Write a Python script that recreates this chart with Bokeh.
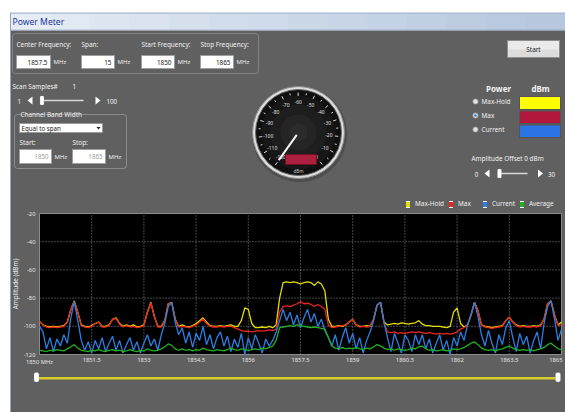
import math
from bokeh.plotting import figure
from bokeh.models import (Range1d, Legend, LegendItem, BoxAnnotation, ColumnDataSource)
from bokeh.core.properties import value
from bokeh.embed import file_html
from bokeh.resources import INLINE

FONT = "Noto Sans"
PANEL = "#606060"
NAN = float("nan")

# ---------------- data ----------------
freq_mhz = [
    1850.0, 1850.1, 1850.2, 1850.3, 1850.4, 1850.5, 1850.6, 1850.7, 1850.8, 1850.9,
    1851.0, 1851.1, 1851.2, 1851.3, 1851.4, 1851.5, 1851.6, 1851.7, 1851.8, 1851.9,
    1852.0, 1852.1, 1852.2, 1852.3, 1852.4, 1852.5, 1852.6, 1852.7, 1852.8, 1852.9,
    1853.0, 1853.1, 1853.2, 1853.3, 1853.4, 1853.5, 1853.6, 1853.7, 1853.8, 1853.9,
    1854.0, 1854.1, 1854.2, 1854.3, 1854.4, 1854.5, 1854.6, 1854.7, 1854.8, 1854.9,
    1855.0, 1855.1, 1855.2, 1855.3, 1855.4, 1855.5, 1855.6, 1855.7, 1855.8, 1855.9,
    1856.0, 1856.1, 1856.2, 1856.3, 1856.4, 1856.5, 1856.6, 1856.7, 1856.8, 1856.9,
    1857.0, 1857.1, 1857.2, 1857.3, 1857.4, 1857.5, 1857.6, 1857.7, 1857.8, 1857.9,
    1858.0, 1858.1, 1858.2, 1858.3, 1858.4, 1858.5, 1858.6, 1858.7, 1858.8, 1858.9,
    1859.0, 1859.1, 1859.2, 1859.3, 1859.4, 1859.5, 1859.6, 1859.7, 1859.8, 1859.9,
    1860.0, 1860.1, 1860.2, 1860.3, 1860.4, 1860.5, 1860.6, 1860.7, 1860.8, 1860.9,
    1861.0, 1861.1, 1861.2, 1861.3, 1861.4, 1861.5, 1861.6, 1861.7, 1861.8, 1861.9,
    1862.0, 1862.1, 1862.2, 1862.3, 1862.4, 1862.5, 1862.6, 1862.7, 1862.8, 1862.9,
    1863.0, 1863.1, 1863.2, 1863.3, 1863.4, 1863.5, 1863.6, 1863.7, 1863.8, 1863.9,
    1864.0, 1864.1, 1864.2, 1864.3, 1864.4, 1864.5, 1864.6, 1864.7, 1864.8, 1864.9,
    1865.0,
]

max_hold_dbm = [
    -96.5, -99, -100, -100.5, -100, -100.5, -100, -99.5, -97, -88,
    -82, -90, -99, -100, -100.5, -99.5, -98, -97, -100, -100,
    -99, -95, -94, -98, -100, -99, -100, -99, -100.5, -100,
    -99, -90, -83, -93, -100, -100, -96, -84, -83, -95,
    -100, -99, -100, -100.5, -99.5, -98, -96, -94, -97, -99.5,
    -100, -100, -99.5, -100, -99.5, -99, -100, -100, -96, -87,
    -88, -98, -101, -101, -100.5, -101, -100, -101, -99, -80,
    -69, -68.5, -69, -68.5, -69, -70, -69, -68.5, -69, -71,
    -68.5, -70, -75, -95, -100, -100, -99.5, -100, -99, -97,
    -95, -99, -100, -100, -99.5, -100, -95, -85, -83, -97,
    -99, -98.5, -98, -98.5, -97.5, -98, -98.5, -98, -97.5, -96,
    -98.5, -99.5, -99.5, -100, -100, -100, -100.5, -101, -100, -90,
    -87, -98, -100.5, -99, -92, -83, -89, -99, -100, -100.5,
    -101, -100.5, -100, -99.5, -96, -93.5, -97, -99, -100, -99.5,
    -100, -100, -99.5, -100, -99, -95, -84, -82, -92, -99,
    -97,
]

max_dbm = [
    -96.5, -99, -100.5, -101, -100.5, -101, -100.5, -100, -97, -88,
    -82.5, -90, -99.5, -100.5, -101, -100, -98, -97, -100.5, -100.5,
    -99.5, -95, -94.5, -98.5, -100.5, -99.5, -100.5, -100, -101, -100.5,
    -99.5, -90, -83.5, -93, -100.5, -100.5, -96.5, -84, -83, -95,
    -100.5, -100, -100.5, -101, -100, -99, -97, -95, -98, -100,
    -100.5, -100.5, -100, -100.5, -100, -100, -101, -102, -103, -103.5,
    -103.5, -104, -103.5, -103, -103.5, -103, -102.5, -103, -102, -90,
    -86, -85.5, -86, -85, -84, -82.5, -84, -83.5, -84.5, -86,
    -84.5, -86, -88, -99, -101, -100.5, -100, -99.5, -99, -97,
    -95, -99, -100.5, -100, -100.5, -100, -95, -85, -83, -98,
    -104, -104.5, -104, -105, -104.5, -105, -104.5, -104, -104.5, -104,
    -104.5, -105, -104.5, -105, -105.5, -105, -105.5, -105, -105.5, -105,
    -104, -102, -101, -99, -92, -83, -89, -99, -100.5, -101,
    -101.5, -101, -100.5, -100, -96, -93.5, -97, -99.5, -100.5, -100,
    -100.5, -100.5, -100, -100.5, -99.5, -95, -84, -82, -92, -99.5,
    -99,
]

current_dbm = [
    -100, -104, -116, -108, -118, -109, -114, -106, -112, -94,
    -82.5, -96, -110, -117, -111, -119, -110, -116, -108, -118,
    -112, -107, -117, -110, -119, -113, -108, -117, -111, -119,
    -112, -106, -114, -109, -117, -106, -98, -86, -83, -97,
    -106, -101, -112, -104, -115, -105, -110, -100, -113, -106,
    -116, -108, -104, -114, -107, -118, -109, -115, -105, -120,
    -108, -116, -106, -112, -119, -109, -114, -110, -104, -96,
    -88, -96, -90, -99, -92, -101, -94, -88, -97, -91,
    -100, -95, -103, -108, -114, -106, -117, -108, -101, -112,
    -105, -116, -108, -119, -110, -104, -96, -85, -83, -97,
    -108, -118, -105, -112, -119, -106, -110, -118, -106, -113,
    -106, -116, -109, -119, -112, -106, -117, -110, -120, -108,
    -114, -104, -110, -99, -92, -83, -93, -106, -114, -103,
    -112, -119, -106, -113, -101, -96, -108, -118, -105, -113,
    -107, -119, -110, -104, -116, -98, -86, -82, -95, -110,
    -102,
]

average_dbm = [
    -117, -117.5, -118, -117, -117.5, -116.5, -117, -117.5, -116, -114.5,
    -113, -115.5, -117, -117.5, -118, -117, -117.5, -116.5, -117.5, -118,
    -117, -116.5, -117.5, -117, -118, -117.5, -116.5, -117.5, -118, -117,
    -117.5, -116, -117, -117.5, -117, -116, -114.5, -112.5, -113.5, -116,
    -117, -116, -117, -116.5, -117.5, -116.5, -117, -115.5, -116.5, -117,
    -117.5, -116.5, -117, -117.5, -116.5, -115.5, -116.5, -117, -116, -116.5,
    -117, -116.5, -116, -116.5, -115.5, -116, -115, -114, -110, -101,
    -100.5, -100, -99.5, -100, -99, -99.5, -100, -100.5, -101, -100.5,
    -101, -101.5, -102, -108, -114, -115.5, -116, -115, -116, -115.5,
    -116, -115, -116, -116.5, -115.5, -116, -114.5, -113, -114, -115.5,
    -116.5, -116, -117, -116, -116.5, -117, -116.5, -115.5, -116, -114.5,
    -114, -116, -117, -116.5, -117.5, -117, -116.5, -117.5, -117, -116,
    -116.5, -116, -115, -113.5, -112, -111, -113, -115.5, -116.5, -117,
    -116.5, -117.5, -116.5, -116, -115, -114, -115.5, -116.5, -117, -116.5,
    -117, -116.5, -117.5, -116.5, -116, -115, -113, -112, -114, -116,
    -116.5,
]

series_names = ["Max-Hold", "Max", "Current", "Average"]
series_keys = ["max_hold", "max", "current", "average"]
series_colors = ["#e2dc00", "#e8241e", "#2a7fe2", "#20b020"]

x_ticks = [1850, 1851.5, 1853, 1854.5, 1856, 1857.5, 1859, 1860.5, 1862, 1863.5, 1865]
x_tick_labels = ["1850 MHz", "1851.5", "1853", "1854.5", "1856", "1857.5", "1859",
                 "1860.5", "1862", "1863.5", "1865"]
y_ticks = [-120, -100, -80, -60, -40, -20]
y_tick_labels = ["-120", "-100", "-80", "-60", "-40", "-20"]

gauge_labels = ["-120", "-110", "-100", "-90", "-80", "-70", "-60",
                "-50", "-40", "-30", "-20", "-10", "0"]

# ---------------- canvas ----------------
W, H = 565, 412
PL, PR, PT, PB = 39, 561, 213, 354          # spectrum plot area in window pixels
F0, F1 = x_ticks[0], x_ticks[-1]
A0, A1 = y_ticks[0], y_ticks[-1]
kx = (F1 - F0) / (PR - PL)
ky = (A1 - A0) / (PB - PT)

p = figure(width=W, height=H, x_range=Range1d(0, W), y_range=Range1d(H, 0),
           x_axis_type=None, y_axis_type=None, output_backend="svg",
           toolbar_location=None, min_border=0, outline_line_color=None,
           background_fill_color="white", border_fill_color="white")
p.extra_x_ranges = {"freq": Range1d(F0 - PL * kx, F1 + (W - PR) * kx)}
p.extra_y_ranges = {"amp": Range1d(A0 - (H - PB) * ky, A1 + PT * ky)}
CH = dict(x_range_name="freq", y_range_name="amp")


def txt(x, y, s, size=6.6, color="#f2f2f2", align="left", bold=False):
    p.text(x=[x], y=[y], text=[s], text_font=value(FONT), text_font_size=f"{size}px",
           text_color=color, text_align=align, text_baseline="middle",
           text_font_style="bold" if bold else "normal")


def box(l, r, t, b, fill, line=None, lw=1):
    p.quad(left=[l], right=[r], top=[t], bottom=[b], fill_color=fill,
           line_color=line, line_width=lw)


def rbox(l, r, t, b, line, fill=None, radius=3):
    p.add_layout(BoxAnnotation(left=l, right=r, top=t, bottom=b,
                               fill_color=fill if fill else "white", fill_alpha=1 if fill else 0,
                               line_color=line, line_width=1, border_radius=radius))


def arrow(x, y, direction):
    if direction < 0:
        xs, ys = [x - 2.5, x + 2.5, x + 2.5], [y, y - 4, y + 4]
    else:
        xs, ys = [x + 2.5, x - 2.5, x - 2.5], [y, y - 4, y + 4]
    p.patch(x=xs, y=ys, fill_color="white", line_color=None)


# ---------------- window chrome ----------------
box(10, W, 30, H, PANEL)
n = 14
lefts, rights, cols = [], [], []
for i in range(n):
    t = i / (n - 1)
    c = (int(229 + (182 - 229) * t), int(236 + (199 - 236) * t), int(245 + (222 - 245) * t))
    lefts.append(10 + 555 * i / n)
    rights.append(10 + 555 * (i + 1) / n + 0.7)
    cols.append("#%02x%02x%02x" % c)
p.quad(left=lefts, right=rights, top=[12.5] * n, bottom=[30] * n, fill_color=cols, line_color=None)
box(10, W, 12, 13.2, "#a7b8cf")
box(10, W, 29.3, 30.2, "#8b99ab")
box(9.5, 10.5, 12, H, "#9aa6b4")
txt(12, 21.5, "Power Meter", size=8.6, color="#23389a")

# frequency group
rbox(12, 258, 33, 73, "#cfcfcf")
for x, lab in [(16, "Center Frequency:"), (81, "Span:"), (141, "Start Frequency:"), (200, "Stop Frequency:")]:
    txt(x, 44, lab, size=6.4)
for l, r, v in [(16, 50, "1857.5"), (81, 114, "15"), (141, 174, "1850"), (200, 233, "1865")]:
    box(l, r, 55, 68, "white", "#a0a0a0")
    txt(r - 3, 61.5, v, size=6.4, color="#222222", align="right")
    txt(r + 3, 61.5, "MHz", size=6.0)

# start button
box(507, 559, 40, 57, "#eaeaea", "#8e8e8e")
box(508, 558, 49, 56.5, "#dcdcdc")
txt(533, 48.5, "Start", size=6.4, color="#222222", align="center")

# scan samples
txt(12, 86, "Scan Samples#", size=6.4)
txt(72, 86, "1", size=6.4)
txt(17, 100.5, "1", size=6.2)
arrow(29.5, 100, -1)
box(40, 83, 99.3, 100.8, "#d8d8d8")
rbox(39.5, 43.5, 95.5, 104.5, "#9a9a9a", fill="white", radius=1)
arrow(97.5, 100, 1)
txt(106, 100.5, "100", size=6.2)

# channel band width group
rbox(14, 126, 114, 168, "#eeeeee")
box(18, 89, 110, 118, PANEL)
txt(20, 114, "Channel Band Width", size=6.4)
box(19, 102, 123, 132, "white", "#9a9a9a")
txt(21, 127.7, "Equal to span", size=6.2, color="#222222")
p.patch(x=[96, 100, 98], y=[126.5, 126.5, 129], fill_color="#222222", line_color=None)
txt(19, 142, "Start:", size=6.4)
txt(72, 142, "Stop:", size=6.4)
for l, r, v in [(19, 51, "1850"), (72, 105, "1865")]:
    box(l, r, 149, 163, "white", "#a0a0a0")
    txt(r - 3, 156, v, size=6.2, color="#9a9a9a", align="right")
    txt(r + 3, 156, "MHz", size=6.0)

# gauge
cx, cy = 298, 132
p.circle(x=[cx + 1], y=[cy + 2], radius=47.5, fill_color="#4e4e4e", line_color=None)
p.circle(x=[cx], y=[cy], radius=46, fill_color="#dcdcdc", line_color="#8a8a8a", line_width=1)
p.circle(x=[cx], y=[cy], radius=43, fill_color="#101010", line_color="#6a6a6a", line_width=1)
for rr, cc in [(37, "#171717"), (28, "#1e1e1e"), (18, "#252525"), (9, "#2b2b2b")]:
    p.circle(x=[cx], y=[cy], radius=rr, fill_color=cc, line_color=None)
x0s, y0s, x1s, y1s = [], [], [], []
for k in range(25):
    th = math.radians(234.5 - 12 * k)
    r0 = 36.5 if k % 2 == 0 else 38
    x0s.append(cx + r0 * math.cos(th)); y0s.append(cy - r0 * math.sin(th))
    x1s.append(cx + 40 * math.cos(th)); y1s.append(cy - 40 * math.sin(th))
p.segment(x0=x0s, y0=y0s, x1=x1s, y1=y1s, line_color="#d8d8d8", line_width=1)
for k, lab in enumerate(gauge_labels):
    th = math.radians(234.5 - 24 * k)
    txt(cx + 30.5 * math.cos(th), cy - 30.5 * math.sin(th), lab, size=4.9,
        color="#e0e0e0", align="center")
box(285, 316, 154, 164, "#ad1f3f", "#6e1024")
txt(298, 170, "dBm", size=4.6, color="#c8c8c8", align="center")
th = math.radians(234.5)
p.segment(x0=[cx + 3 * math.cos(th)], y0=[cy - 3 * math.sin(th)],
          x1=[cx + 34 * math.cos(th)], y1=[cy - 34 * math.sin(th)],
          line_color="#f4f4f4", line_width=2)

# power colour panel
txt(498, 88, "Power", size=8, bold=True, align="center")
txt(540, 88, "dBm", size=8, bold=True, align="center")
for y, lab, sel in [(101, "Max-Hold", False), (115, "Max", True), (129, "Current", False)]:
    p.circle(x=[475], y=[y], radius=2.6, fill_color="#e2e2e2", line_color="#9a9a9a", line_width=0.8)
    if sel:
        p.circle(x=[475], y=[y], radius=1.3, fill_color="#2a86d8", line_color=None)
    txt(481, y, lab, size=6.4)
box(519, 560, 96, 109, "#ffff00", "#555555")
box(519, 560, 110.5, 123, "#b2183c", "#555555")
box(519, 560, 124.5, 137, "#2a74e6", "#555555")

txt(471, 158, "Amplitude Offset 0  dBm", size=6.4)
txt(476, 173.5, "0", size=6.2, align="center")
arrow(486.5, 173, -1)
box(497, 527, 172.3, 173.8, "#d8d8d8")
rbox(497, 501, 168.5, 177.5, "#9a9a9a", fill="white", radius=1)
arrow(540, 173, 1)
txt(551, 173.5, "30", size=6.2, align="center")

# ---------------- spectrum chart (freq / amp scales) ----------------
p.quad(left=[F0], right=[F1], bottom=[A0], top=[A1], fill_color="black",
       line_color="#8c8c8c", line_width=1, **CH)
p.segment(x0=x_ticks, x1=x_ticks, y0=[A0] * len(x_ticks), y1=[A1] * len(x_ticks),
          line_color="#8a8a8a", line_dash="1 2", line_width=1, **CH)
p.segment(x0=[F0] * len(y_ticks), x1=[F1] * len(y_ticks), y0=y_ticks, y1=y_ticks,
          line_color="#8a8a8a", line_dash="1 2", line_width=1, **CH)

src = ColumnDataSource(data=dict(freq=freq_mhz, max_hold=max_hold_dbm, max=max_dbm,
                                 current=current_dbm, average=average_dbm))
renderers = {}
for key, col in zip(series_keys, series_colors):
    renderers[key] = p.line(x="freq", y=key, source=src, line_color=col, line_width=1.3, **CH)

# axis tick labels and title
p.text(x=x_ticks[:-1], y=[A0] * (len(x_ticks) - 1), text=x_tick_labels[:-1], text_font=value(FONT),
       text_font_size="5.8px", text_color="#e6e6e6", text_align="center",
       text_baseline="top", y_offset=3, **CH)
p.text(x=x_ticks[-1:], y=[A0], text=x_tick_labels[-1:], text_font=value(FONT),
       text_font_size="5.8px", text_color="#e6e6e6", text_align="right",
       text_baseline="top", y_offset=3, x_offset=1, **CH)
p.text(x=[F0] * len(y_ticks), y=y_ticks, text=y_tick_labels, text_font=value(FONT),
       text_font_size="5.8px", text_color="#e6e6e6", text_align="right",
       text_baseline="middle", x_offset=-4, **CH)
p.text(x=[F0], y=[(A0 + A1) / 2], text=["Amplitude (dBm)"], text_font=value(FONT),
       text_font_size="6.4px", text_color="#eeeeee", text_align="center",
       text_baseline="middle", angle=math.pi / 2, x_offset=-24, **CH)

# range slider under the chart
box(36, 557, 376.5, 379, "#d6ce2c")
rbox(33.5, 38.5, 372, 381.5, "#9a9a9a", fill="white", radius=2)
rbox(555, 560, 372, 381.5, "#9a9a9a", fill="white", radius=2)

# ---------------- series legend ----------------
items = []
for name, key, col in zip(series_names, series_keys, series_colors):
    pw = p.line(x=[NAN], y=[NAN], line_color="white", line_width=7, line_cap="round")
    pc = p.line(x=[NAN], y=[NAN], line_color=col, line_width=5, line_cap="round")
    items.append(LegendItem(label=name, renderers=[renderers[key], pw, pc]))
legend = Legend(items=items, orientation="horizontal", location=(406, H - 208),
                glyph_width=4, glyph_height=8, label_height=8, label_standoff=5, spacing=5,
                padding=0, margin=0, background_fill_alpha=0, border_line_color=None,
                label_text_font=FONT, label_text_font_size="6.4px", label_text_color="#f0f0f0")
p.add_layout(legend)

open("out.html", "w").write(file_html(p, INLINE))
